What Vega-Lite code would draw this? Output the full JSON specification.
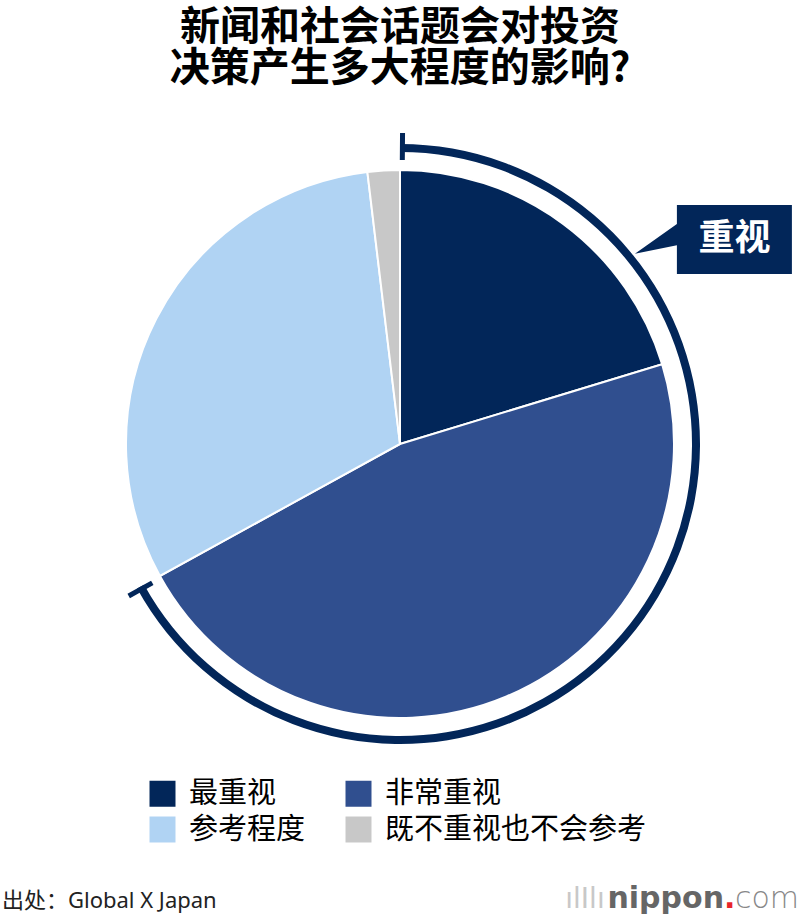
{
  "$schema": "https://vega.github.io/schema/vega-lite/v6.json",
  "width": 800,
  "height": 827,
  "autosize": {"type": "none"},
  "padding": {"top": 95, "left": 0, "right": 0, "bottom": 0},
  "background": "white",
  "config": {"view": {"stroke": null}, "font": "Noto Sans CJK SC"},
  "title": {
    "text": ["新闻和社会话题会对投资", "决策产生多大程度的影响?"],
    "font": "Noto Sans CJK SC",
    "fontSize": 40,
    "fontWeight": "bold",
    "lineHeight": 41,
    "color": "#000000",
    "anchor": "middle",
    "frame": "group",
    "offset": 6
  },
  "datasets": {
    "slices": [
      {"category": "最重视", "value": 20.3, "rank": 1, "group": "重视"},
      {"category": "非常重视", "value": 46.7, "rank": 2, "group": "重视"},
      {"category": "参考程度", "value": 31.1, "rank": 3, "group": "其他"},
      {"category": "既不重视也不会参考", "value": 1.9, "rank": 4, "group": "其他"}
    ],
    "ticks": [{"end": "start", "pos": 0.13}, {"end": "end", "pos": 66.87}],
    "label": [{"text": "重视"}],
    "source": [{"text": "出处：Global X Japan"}],
    "logo": [{"part": "nippon"}]
  },
  "layer": [
    {
      "data": {"name": "slices"},
      "mark": {"type": "arc", "outerRadius": 274, "stroke": "#ffffff", "strokeWidth": 2},
      "encoding": {
        "x": {"datum": 0, "type": "quantitative", "scale": {"domain": [-1.454545, 1.454545], "nice": false, "zero": false}, "axis": null},
        "y": {"datum": 0, "type": "quantitative", "scale": {"domain": [-1.738182, 1.269091], "nice": false, "zero": false}, "axis": null},
        "theta": {"field": "value", "type": "quantitative", "stack": true, "scale": {"domain": [0, 100], "range": [0, 6.283185307]}},
        "order": {"field": "rank", "type": "quantitative"},
        "color": {
          "field": "category",
          "type": "nominal",
          "scale": {
            "domain": ["最重视", "非常重视", "参考程度", "既不重视也不会参考"],
            "range": ["#022659", "#304f8f", "#b0d3f3", "#c8c8c8"]
          },
          "legend": {
            "title": null,
            "orient": "none",
            "legendX": 148,
            "legendY": 684,
            "columns": 2,
            "direction": "horizontal",
            "symbolType": "square",
            "symbolSize": 676,
            "symbolStrokeWidth": 0,
            "symbolOpacity": 1,
            "labelFont": "Noto Sans CJK SC",
            "labelFontSize": 29,
            "labelColor": "#000000",
            "labelOffset": 12,
            "labelLimit": 400,
            "rowPadding": 6,
            "columnPadding": 38
          }
        }
      }
    },
    {
      "data": {"name": "slices"},
      "transform": [
        {"filter": "datum.group === '重视'"},
        {"aggregate": [{"op": "sum", "field": "value", "as": "total"}]}
      ],
      "mark": {"type": "arc", "outerRadius": 300, "innerRadius": 292, "color": "#022659"},
      "encoding": {
        "x": {"datum": 0, "type": "quantitative"},
        "y": {"datum": 0, "type": "quantitative"},
        "theta": {"field": "total", "type": "quantitative", "stack": true}
      }
    },
    {
      "data": {"name": "ticks"},
      "mark": {"type": "arc", "outerRadius": 311, "innerRadius": 284, "stroke": "#022659", "strokeWidth": 5, "fill": "#022659"},
      "encoding": {
        "x": {"datum": 0, "type": "quantitative"},
        "y": {"datum": 0, "type": "quantitative"},
        "theta": {"field": "pos", "type": "quantitative"},
        "theta2": {"field": "pos"}
      }
    },
    {
      "data": {"name": "label"},
      "mark": {
        "type": "point",
        "shape": "M-1,-0.6L1,-0.6L1,0.6L-1,0.6L-1,0.1L-1.73,0.25L-1,-0.27Z",
        "filled": true,
        "color": "#022659",
        "opacity": 1,
        "size": 13225,
        "strokeWidth": 0
      },
      "encoding": {
        "x": {"datum": 1.216, "type": "quantitative"},
        "y": {"datum": 0.744, "type": "quantitative"}
      }
    },
    {
      "data": {"name": "label"},
      "mark": {"type": "text", "font": "Noto Sans CJK SC", "fontSize": 36, "fontWeight": "bold", "color": "#ffffff", "align": "center", "baseline": "middle"},
      "encoding": {
        "x": {"datum": 1.216, "type": "quantitative"},
        "y": {"datum": 0.744, "type": "quantitative"},
        "text": {"field": "text"}
      }
    },
    {
      "data": {"name": "source"},
      "mark": {"type": "text", "font": "Noto Sans, Noto Sans CJK SC", "fontSize": 22, "color": "#222222", "align": "left", "baseline": "alphabetic"},
      "encoding": {
        "x": {"datum": -1.4473, "type": "quantitative"},
        "y": {"datum": -1.687, "type": "quantitative"},
        "text": {"field": "text"}
      }
    },
    {
      "data": {"name": "logo"},
      "mark": {"type": "text", "font": "DejaVu Sans", "fontSize": 30, "fontWeight": "bold", "color": "#666666", "align": "right", "baseline": "alphabetic", "text": "nippon"},
      "encoding": {
        "x": {"datum": 1.1782, "type": "quantitative"},
        "y": {"datum": -1.687, "type": "quantitative"}
      }
    },
    {
      "data": {"name": "logo"},
      "mark": {"type": "text", "font": "DejaVu Sans", "fontSize": 30, "fontWeight": "bold", "color": "#e8242a", "align": "left", "baseline": "alphabetic", "text": "."},
      "encoding": {
        "x": {"datum": 1.1782, "type": "quantitative"},
        "y": {"datum": -1.687, "type": "quantitative"}
      }
    },
    {
      "data": {"name": "logo"},
      "mark": {"type": "text", "font": "DejaVu Sans", "fontSize": 30, "fontWeight": 200, "color": "#888888", "align": "left", "baseline": "alphabetic", "text": "com"},
      "encoding": {
        "x": {"datum": 1.2182, "type": "quantitative"},
        "y": {"datum": -1.687, "type": "quantitative"}
      }
    },
    {
      "data": {"name": "logo"},
      "mark": {"type": "text", "font": "DejaVu Sans", "fontSize": 28, "color": "#c8c8c8", "align": "center", "baseline": "alphabetic", "text": "ılIlı"},
      "encoding": {
        "x": {"datum": 0.6727, "type": "quantitative"},
        "y": {"datum": -1.687, "type": "quantitative"}
      }
    }
  ]
}
